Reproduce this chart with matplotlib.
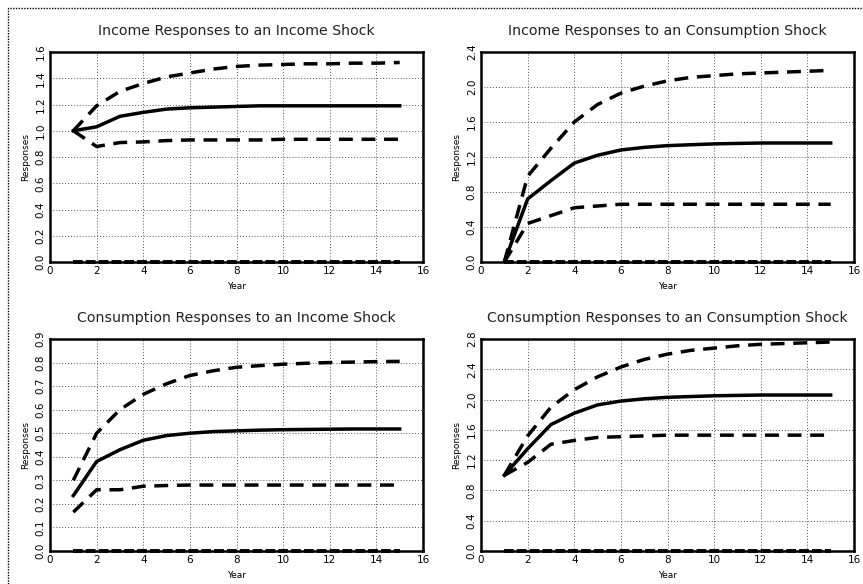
import numpy as np
import matplotlib
matplotlib.use("Agg")
from matplotlib import pyplot as plt
from matplotlib.patches import Rectangle

years = np.arange(1, 16)

titles = [
    "Income Responses to an Income Shock",
    "Income Responses to an Consumption Shock",
    "Consumption Responses to an Income Shock",
    "Consumption Responses to an Consumption Shock",
]

# impulse responses (point estimate, upper band, lower band)
inc_inc = [1.0, 1.03, 1.11, 1.14, 1.165, 1.175, 1.18, 1.185, 1.19, 1.19, 1.19, 1.19, 1.19, 1.19, 1.19]
inc_inc_hi = [1.0, 1.19, 1.30, 1.36, 1.41, 1.44, 1.47, 1.49, 1.50, 1.505, 1.51, 1.51, 1.515, 1.515, 1.52]
inc_inc_lo = [1.0, 0.88, 0.91, 0.915, 0.925, 0.93, 0.93, 0.93, 0.93, 0.935, 0.935, 0.935, 0.935, 0.935, 0.935]

inc_con = [0.0, 0.72, 0.93, 1.13, 1.22, 1.28, 1.31, 1.33, 1.34, 1.35, 1.355, 1.36, 1.36, 1.36, 1.36]
inc_con_hi = [0.0, 0.98, 1.30, 1.60, 1.80, 1.93, 2.01, 2.07, 2.11, 2.13, 2.15, 2.16, 2.17, 2.18, 2.19]
inc_con_lo = [0.0, 0.44, 0.53, 0.62, 0.64, 0.66, 0.66, 0.66, 0.66, 0.66, 0.66, 0.66, 0.66, 0.66, 0.66]

con_inc = [0.235, 0.38, 0.43, 0.47, 0.49, 0.50, 0.507, 0.51, 0.513, 0.515, 0.516, 0.517, 0.518, 0.518, 0.518]
con_inc_hi = [0.30, 0.50, 0.60, 0.665, 0.71, 0.745, 0.765, 0.78, 0.787, 0.793, 0.797, 0.80, 0.802, 0.804, 0.805]
con_inc_lo = [0.165, 0.26, 0.26, 0.275, 0.278, 0.28, 0.28, 0.28, 0.28, 0.28, 0.28, 0.28, 0.28, 0.28, 0.28]

con_con = [1.0, 1.35, 1.67, 1.82, 1.93, 1.98, 2.01, 2.03, 2.04, 2.05, 2.055, 2.06, 2.06, 2.06, 2.06]
con_con_hi = [1.0, 1.52, 1.90, 2.13, 2.30, 2.43, 2.53, 2.60, 2.65, 2.68, 2.71, 2.73, 2.74, 2.75, 2.76]
con_con_lo = [1.0, 1.17, 1.41, 1.46, 1.50, 1.51, 1.52, 1.53, 1.53, 1.53, 1.53, 1.53, 1.53, 1.53, 1.53]

zero_line = [0.0] * 15

y_ticks = [
    [0.0, 0.2, 0.4, 0.6, 0.8, 1.0, 1.2, 1.4, 1.6],
    [0.0, 0.4, 0.8, 1.2, 1.6, 2.0, 2.4],
    [0.0, 0.1, 0.2, 0.3, 0.4, 0.5, 0.6, 0.7, 0.8, 0.9],
    [0.0, 0.4, 0.8, 1.2, 1.6, 2.0, 2.4, 2.8],
]
x_ticks = [0, 2, 4, 6, 8, 10, 12, 14, 16]

series = [
    (inc_inc, inc_inc_hi, inc_inc_lo),
    (inc_con, inc_con_hi, inc_con_lo),
    (con_inc, con_inc_hi, con_inc_lo),
    (con_con, con_con_hi, con_con_lo),
]

W, H = 863, 584
fig = plt.figure(figsize=(W / 100, H / 100), dpi=100)
fig.patch.set_facecolor("white")

# axes boxes in pixels: left, top, right, bottom
boxes = [(50, 52, 423, 262), (481, 52, 854, 262),
         (50, 339, 423, 551), (481, 339, 854, 551)]

# dotted frame around the whole page
fig.add_artist(Rectangle((8 / W, -0.1), 1.2, 1 - 8 / H + 0.1, transform=fig.transFigure,
                         fill=False, lw=1.0, ls=(0, (1, 1)), color="black"))

for i, (l, t, r, b) in enumerate(boxes):
    ax = fig.add_axes([l / W, 1 - b / H, (r - l) / W, (b - t) / H])
    mid, hi, lo = series[i]
    ax.plot(years, zero_line, color="black", lw=2.8, ls=(0, (2.5, 0.8)),
            clip_on=False, zorder=5)
    ax.plot(years, hi, color="black", lw=2.5, ls=(0, (4, 2.5)))
    ax.plot(years, lo, color="black", lw=2.5, ls=(0, (4, 2.5)))
    ax.plot(years, mid, color="black", lw=2.5)
    ax.set_xlim(0, 16)
    ax.set_ylim(y_ticks[i][0], y_ticks[i][-1])
    ax.set_xticks(x_ticks)
    ax.set_yticks(y_ticks[i])
    ax.set_yticklabels([f"{v:.1f}" for v in y_ticks[i]], rotation=90, va="center")
    ax.tick_params(labelsize=7.5, length=0, pad=3)
    ax.grid(True, ls=(0, (1, 2)), color="#555555", lw=0.7)
    for s in ax.spines.values():
        s.set_linewidth(1.8)
    ax.set_xlabel("Year", fontsize=6.5, labelpad=4)
    ax.set_ylabel("Responses", fontsize=6.5, labelpad=4)
    ax.set_title(titles[i], fontsize=10.2, pad=12, color="#222222")

fig.savefig("out.png", dpi=100)
